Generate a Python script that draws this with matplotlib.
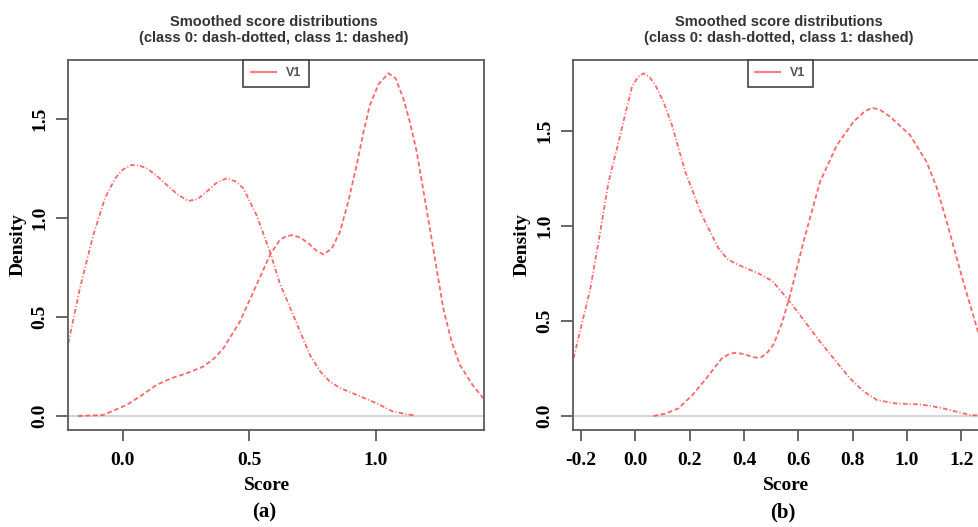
import numpy as np
import matplotlib
matplotlib.use("Agg")
import matplotlib.pyplot as plt
from matplotlib.lines import Line2D

## values
# panel (a)
a0_x = [-0.216, -0.17, -0.117, -0.071, -0.045, -0.025, 0.0, 0.034, 0.065, 0.094, 0.135, 0.173,
        0.215, 0.258, 0.295, 0.331, 0.37, 0.41, 0.445, 0.476, 0.528, 0.581, 0.62, 0.673,
        0.739, 0.78, 0.818, 0.86, 0.91, 1.003, 1.068, 1.154]
a0_y = [0.367, 0.645, 0.914, 1.10, 1.165, 1.209, 1.245, 1.268, 1.265, 1.251, 1.212, 1.167,
        1.12, 1.086, 1.095, 1.133, 1.178, 1.20, 1.185, 1.15, 1.015, 0.83, 0.67, 0.51,
        0.308, 0.225, 0.173, 0.14, 0.114, 0.064, 0.022, 0.002]
a1_x = [-0.177, -0.078, 0.015, 0.075, 0.133, 0.19, 0.252, 0.317, 0.36, 0.397, 0.462, 0.528,
        0.581, 0.62, 0.645, 0.673, 0.705, 0.735, 0.765, 0.792, 0.825, 0.858, 0.89, 0.924,
        0.95, 0.976, 1.01, 1.049, 1.078, 1.108, 1.135, 1.161, 1.213, 1.266, 1.3, 1.332,
        1.38, 1.424]
a1_y = [0.0, 0.005, 0.056, 0.105, 0.157, 0.19, 0.216, 0.249, 0.29, 0.342, 0.476, 0.662,
        0.813, 0.889, 0.908, 0.914, 0.898, 0.87, 0.835, 0.816, 0.845, 0.931, 1.08, 1.268,
        1.43, 1.571, 1.675, 1.731, 1.705, 1.604, 1.48, 1.335, 0.948, 0.544, 0.37, 0.258,
        0.16, 0.089]

# panel (b)
b0_x = [-0.227, -0.165, -0.13, -0.098, -0.061, -0.035, -0.012, 0.01, 0.031, 0.052, 0.074,
        0.105, 0.135, 0.184, 0.245, 0.306, 0.34, 0.38, 0.453, 0.505, 0.57, 0.68, 0.79,
        0.84, 0.889, 0.96, 1.048, 1.09, 1.134, 1.232, 1.3]
b0_y = [0.304, 0.672, 0.96, 1.233, 1.444, 1.6, 1.733, 1.785, 1.804, 1.785, 1.742,
        1.65, 1.532, 1.286, 1.058, 0.883, 0.825, 0.795, 0.751, 0.71, 0.60, 0.391, 0.198,
        0.13, 0.084, 0.066, 0.061, 0.052, 0.04, 0.005, 0.0]
b1_x = [0.067, 0.11, 0.159, 0.21, 0.257, 0.319, 0.345, 0.368, 0.395, 0.42, 0.445, 0.465,
        0.49, 0.51, 0.54, 0.57, 0.619, 0.68, 0.742, 0.803, 0.84, 0.87, 0.9, 0.938, 1.011,
        1.072, 1.11, 1.146, 1.207, 1.265, 1.3]
b1_y = [0.0, 0.012, 0.04, 0.11, 0.19, 0.304, 0.326, 0.333, 0.327, 0.316, 0.307, 0.31,
        0.34, 0.38, 0.49, 0.637, 0.917, 1.233, 1.426, 1.549, 1.598, 1.623, 1.613, 1.575,
        1.479, 1.338, 1.2, 1.023, 0.707, 0.426, 0.3]

W, H = 979, 527
fig = plt.figure(figsize=(W / 100, H / 100), dpi=100)

red = "#ff4d4d"
gray = "#5a5a5a"
serif = dict(family="Liberation Serif", weight="bold")


def px_axes(l, r, t, b):
    return fig.add_axes([l / W, (H - b) / H, (r - l) / W, (b - t) / H])


def style(ax, xlim, ylim, xticks, xfmt):
    ax.set_xlim(*xlim)
    ax.set_ylim(*ylim)
    ax.axhline(0, color="#d6d6d6", lw=1.6, zorder=1)
    for s in ax.spines.values():
        s.set_color(gray)
        s.set_linewidth(1.3)
    ax.set_xticks(xticks)
    ax.set_xticklabels([xfmt % v for v in xticks], fontsize=14, **serif)
    ax.set_yticks([0, 0.5, 1.0, 1.5])
    ax.set_yticklabels(["0.0", "0.5", "1.0", "1.5"], fontsize=14, rotation=90,
                       va="center", **serif)
    ax.tick_params(axis="x", length=8, width=1.3, color=gray, pad=8)
    ax.tick_params(axis="y", length=9, width=1.3, color=gray, pad=5)
    leg = ax.legend([Line2D([], [], color="#ff8080", lw=1.6)], ["V1"],
                    loc="upper center", bbox_to_anchor=(0.5, 1.0), borderaxespad=0,
                    fancybox=False, framealpha=1, handlelength=2.0,
                    prop=dict(family="Liberation Sans", size=9, weight="bold"),
                    borderpad=0.6, handletextpad=0.8)
    leg.get_frame().set_edgecolor("#444444")
    leg.get_frame().set_linewidth(1.2)
    for t in leg.get_texts():
        t.set_color("#555555")


def curves(ax, x0, y0, x1, y1):
    ax.plot(x0, y0, color=red, lw=1.3, alpha=0.85, dashes=(2.6, 1.2, 0.6, 1.2))
    ax.plot(x1, y1, color=red, lw=1.3, alpha=0.85, dashes=(2.6, 1.5))


title = "Smoothed score distributions\n(class 0: dash-dotted, class 1: dashed)"

ax1 = px_axes(68, 484, 60, 430)
curves(ax1, a0_x, a0_y, a1_x, a1_y)
style(ax1, (-0.217, 1.427), (-0.0707, 1.798), [0.0, 0.5, 1.0], "%.1f")

ax2 = px_axes(573, 988, 60, 430)
curves(ax2, b0_x, b0_y, b1_x, b1_y)
style(ax2, (-0.229, 1.298), (-0.0737, 1.874),
      [-0.2, 0.0, 0.2, 0.4, 0.6, 0.8, 1.0, 1.2], "%.1f")

for cx, lab, dx, sx in [(274, "(a)", 18, 267), (779, "(b)", 522, 786)]:
    fig.text(cx / W, 1 - 30 / H, title, ha="center", va="center", fontsize=10.5,
             family="Liberation Sans", weight="bold", color="#333333", linespacing=1.2)
    fig.text(sx / W, 1 - 485 / H, "Score", ha="center", va="center", fontsize=14, **serif)
    fig.text((sx - 3) / W, 1 - 512 / H, lab, ha="center", va="center", fontsize=15, **serif)
    fig.text(dx / W, 1 - 245 / H, "Density", ha="center", va="center", rotation=90,
             fontsize=14, **serif)

fig.savefig("out.png", dpi=100)
